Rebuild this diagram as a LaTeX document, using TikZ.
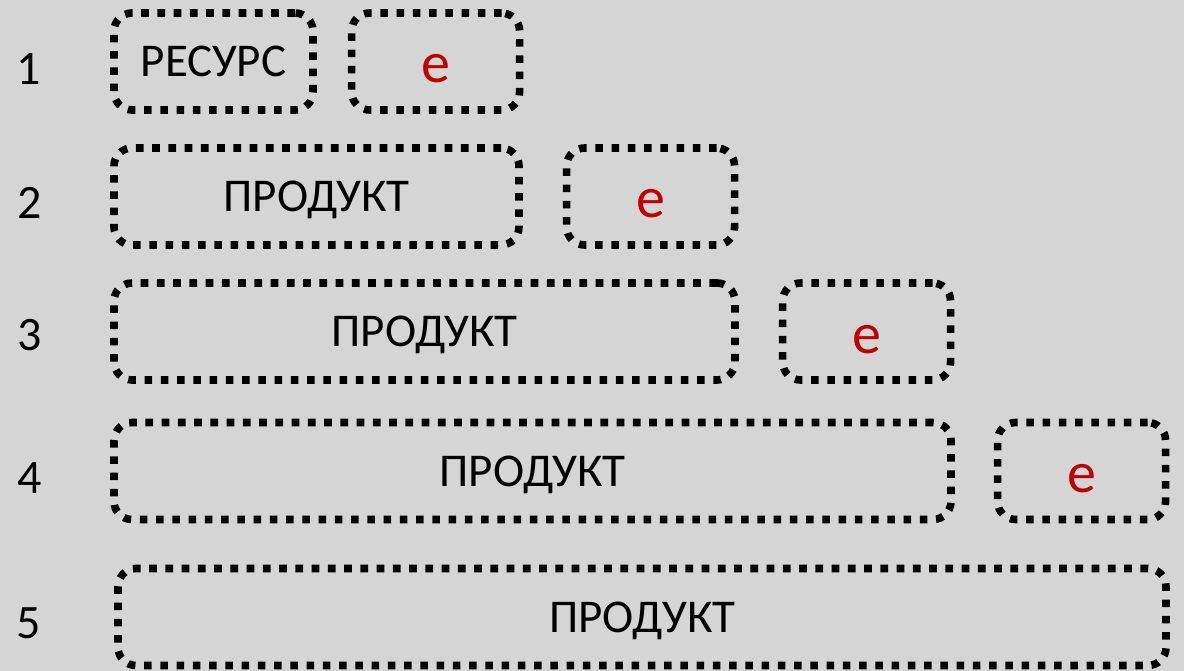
\documentclass[tikz,border=0pt]{standalone}
\usepackage{fontspec}
\setmainfont{Carlito}
\usetikzlibrary{positioning}
\definecolor{bgGray}{HTML}{D5D5D5}
\definecolor{eRed}{HTML}{C00000}
\tikzset{
  dotted box/.style={draw=black, line width=7.6pt, line cap=butt,
      dash pattern=on 7.6pt off 8.65pt, rounded corners=18pt,
      inner sep=0pt, minimum height=97pt},
  item box/.style={dotted box, font=\fontsize{47}{50}\selectfont,
      text height=30pt, text depth=0pt},
  e box/.style={dotted box, text=eRed, minimum width=168pt,
      font=\fontsize{58}{62}\selectfont, text height=43pt, text depth=0pt},
  row number/.style={anchor=base, font=\fontsize{48}{52}\selectfont}
}
\begin{document}
\begin{tikzpicture}[x=1pt, y=-1pt]
\fill[bgGray] (0,0) rectangle (1184,671);
\useasboundingbox (0,0) rectangle (1184,671);
% row numbers
\node[row number] (num1) at (29,85) {1};
\node[row number] (num2) at (30,218.5) {2};
\node[row number] (num3) at (30,350.5) {3};
\node[row number] (num4) at (30,493.5) {4};
\node[row number] (num5) at (29,638) {5};
% rows
\node[item box, minimum width=199pt] (res1) at (213.5,61.5) {РЕСУРС};
\node[e box, right=31pt of res1] (e1) {e};
\node[item box, minimum width=405pt] (prod2) at (316.5,196.5) {ПРОДУКТ};
\node[e box, right=40pt of prod2] (e2) {e};
\node[item box, minimum width=621pt] (prod3) at (424.5,331.5) {ПРОДУКТ};
\node[e box, right=40pt of prod3] (e3) {e};
\node[item box, minimum width=837pt] (prod4) at (532.5,471) {ПРОДУКТ};
\node[e box, right=39pt of prod4] (e4) {e};
\node[item box, minimum width=1048pt] (prod5) at (642,617) {ПРОДУКТ};
\end{tikzpicture}
\end{document}
